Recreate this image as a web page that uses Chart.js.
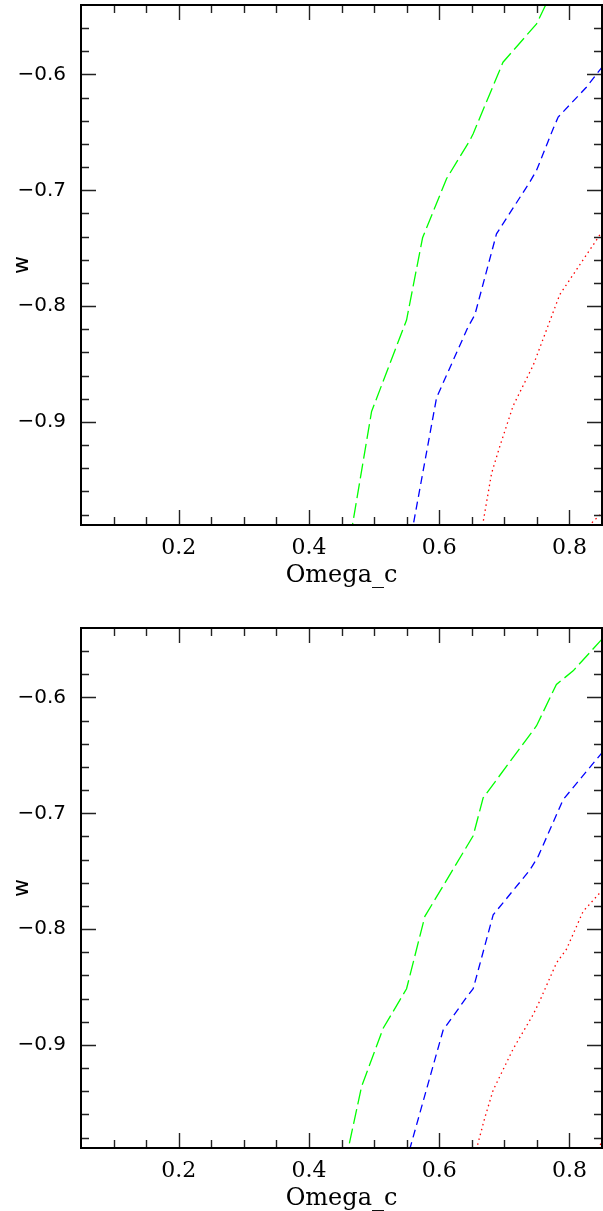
<!DOCTYPE html>
<html>
<head>
<meta charset="utf-8">
<script src="https://cdn.jsdelivr.net/npm/chart.js@4/dist/chart.umd.min.js"></script>
<style>
  html, body { margin: 0; padding: 0; background: #fff; }
  body { width: 603px; height: 1211px; overflow: hidden; position: relative; }
  .panel { position: absolute; left: 0; width: 603px; height: 620px; }
  #panelTop { top: 0; }
  #panelBottom { top: 623px; }
</style>
</head>
<body>
<div class="panel" id="panelTop"><canvas id="chartTop" width="603" height="620"></canvas></div>
<div class="panel" id="panelBottom"><canvas id="chartBottom" width="603" height="620"></canvas></div>
<script>
// Axis ranges and ticks (shared by both panels)
const xMin = 0.05;
const xMax = 0.85;
const yMin = -0.989;
const yMax = -0.54;
const xMajorTicks = [0.2, 0.4, 0.6, 0.8];
const xTickLabels = ["0.2", "0.4", "0.6", "0.8"];
const xMinorTicks = [0.1, 0.15, 0.25, 0.3, 0.35, 0.45, 0.5, 0.55, 0.65, 0.7, 0.75];
const yMajorTicks = [-0.6, -0.7, -0.8, -0.9];
const yTickLabels = ["\u22120.6", "\u22120.7", "\u22120.8", "\u22120.9"];
const yMinorTicks = [-0.56, -0.58, -0.62, -0.64, -0.66, -0.68, -0.72, -0.74, -0.76, -0.78,
  -0.82, -0.84, -0.86, -0.88, -0.92, -0.94, -0.96, -0.98];

// Top panel contours
const topGreenX = [0.7635, 0.7495, 0.698, 0.6522, 0.647, 0.6113, 0.5745, 0.5499, 0.4962, 0.4665];
const topGreenY = [-0.54, -0.5563, -0.5894, -0.6511, -0.657, -0.690, -0.741, -0.812, -0.891, -0.99];
const topBlueX = [0.851, 0.826, 0.7827, 0.775, 0.7495, 0.7392, 0.688, 0.6548, 0.6445, 0.596, 0.5598];
const topBlueY = [-0.593, -0.611, -0.6368, -0.6468, -0.6828, -0.6928, -0.7376, -0.8075, -0.8178, -0.879, -0.99];
const topRedX = [0.851, 0.8287, 0.7852, 0.7443, 0.7136, 0.6931, 0.6804, 0.6664];
const topRedY = [-0.735, -0.7536, -0.790, -0.8512, -0.886, -0.921, -0.9445, -0.99];
const topRed2X = [0.829, 0.851];
const topRed2Y = [-0.99, -0.978];

// Bottom panel contours
const botGreenX = [0.851, 0.8057, 0.780, 0.7495, 0.6675, 0.6522, 0.578, 0.5499, 0.514, 0.4808, 0.4602];
const botGreenY = [-0.549, -0.577, -0.5887, -0.6244, -0.6867, -0.7194, -0.789, -0.8515, -0.8856, -0.936, -0.99];
const botBlueX = [0.851, 0.7903, 0.752, 0.7392, 0.6829, 0.6522, 0.642, 0.6061, 0.5548];
const botBlueY = [-0.647, -0.6882, -0.7372, -0.749, -0.7877, -0.8515, -0.8589, -0.8871, -0.99];
const botRedX = [0.851, 0.821, 0.7955, 0.7801, 0.7545, 0.7443, 0.7136, 0.6829, 0.6701, 0.6572];
const botRedY = [-0.766, -0.7847, -0.8173, -0.8292, -0.8619, -0.8738, -0.9034, -0.939, -0.9628, -0.99];
const botRed2X = [0.843, 0.851];
const botRed2Y = [-0.99, -0.983];

function toPoints(xs, ys) {
  return xs.map((x, i) => ({ x: x, y: ys[i] }));
}

function lineSet(xs, ys, color, dash) {
  return {
    data: toPoints(xs, ys),
    borderColor: color,
    borderWidth: 1.3,
    borderDash: dash,
    pointRadius: 0,
    showLine: true,
    tension: 0,
    fill: false,
  };
}

// Frame plus inward tick marks on all four sides
const frameTicks = {
  id: "frameTicks",
  afterDraw(chart) {
    const { ctx, chartArea: a, scales } = chart;
    const xs = scales.x;
    const ys = scales.y;
    ctx.save();
    ctx.strokeStyle = "#222";
    ctx.lineWidth = 1.4;
    const xTick = (v, len) => {
      const px = Math.round(xs.getPixelForValue(v)) + 0.5;
      ctx.beginPath();
      ctx.moveTo(px, a.bottom); ctx.lineTo(px, a.bottom - len);
      ctx.moveTo(px, a.top); ctx.lineTo(px, a.top + len);
      ctx.stroke();
    };
    const yTick = (v, len) => {
      const py = Math.round(ys.getPixelForValue(v)) + 0.5;
      ctx.beginPath();
      ctx.moveTo(a.left, py); ctx.lineTo(a.left + len, py);
      ctx.moveTo(a.right, py); ctx.lineTo(a.right - len, py);
      ctx.stroke();
    };
    xMajorTicks.forEach((v) => xTick(v, 15));
    xMinorTicks.forEach((v) => xTick(v, 8));
    yMajorTicks.forEach((v) => yTick(v, 15));
    yMinorTicks.forEach((v) => yTick(v, 8));
    ctx.strokeStyle = "#000";
    ctx.lineWidth = 2;
    ctx.strokeRect(a.left, a.top, a.right - a.left, a.bottom - a.top);
    ctx.restore();
  },
};

function makePanel(canvasId, datasets) {
  return new Chart(document.getElementById(canvasId), {
    type: "scatter",
    data: { datasets: datasets },
    options: {
      responsive: false,
      animation: false,
      layout: { padding: { top: 5, right: 1, left: 0, bottom: 0 } },
      plugins: { legend: { display: false }, tooltip: { enabled: false } },
      scales: {
        x: {
          type: "linear",
          min: xMin,
          max: xMax,
          afterBuildTicks: (scale) => {
            scale.ticks = xMajorTicks.map((v) => ({ value: v }));
          },
          afterFit: (scale) => {
            scale.height = 95;
            scale.paddingLeft = 0;
            scale.paddingRight = 0;
          },
          grid: { display: false, drawTicks: false },
          border: { display: false },
          ticks: {
            padding: 10,
            maxRotation: 0,
            color: "#000",
            font: { family: "DejaVu Serif", size: 22 },
            callback: (value, index) => xTickLabels[index],
          },
          title: {
            display: true,
            text: "Omega_c",
            color: "#000",
            font: { family: "DejaVu Serif", size: 24 },
            padding: { top: 0, bottom: 30 },
          },
        },
        y: {
          type: "linear",
          min: yMin,
          max: yMax,
          afterBuildTicks: (scale) => {
            scale.ticks = yMajorTicks.map((v) => ({ value: v }));
          },
          afterFit: (scale) => {
            scale.width = 81;
            scale.paddingTop = 0;
            scale.paddingBottom = 0;
          },
          grid: { display: false, drawTicks: false },
          border: { display: false },
          ticks: {
            padding: 15,
            color: "#000",
            font: { family: "DejaVu Sans", size: 20 },
            callback: (value, index) => yTickLabels[index],
          },
          title: {
            display: true,
            text: "w",
            color: "#000",
            font: { family: "DejaVu Sans", size: 22 },
            padding: { top: 9, bottom: 0 },
          },
        },
      },
    },
    plugins: [frameTicks],
  });
}

const green = "#00ff00";
const blue = "#0000ff";
const red = "#ff0000";
const longDash = [15, 5];
const shortDash = [8, 5];
const dotted = [1.5, 3.5];

makePanel("chartTop", [
  lineSet(topGreenX, topGreenY, green, longDash),
  lineSet(topBlueX, topBlueY, blue, shortDash),
  lineSet(topRedX, topRedY, red, dotted),
  lineSet(topRed2X, topRed2Y, red, dotted),
]);

makePanel("chartBottom", [
  lineSet(botGreenX, botGreenY, green, longDash),
  lineSet(botBlueX, botBlueY, blue, shortDash),
  lineSet(botRedX, botRedY, red, dotted),
  lineSet(botRed2X, botRed2Y, red, dotted),
]);
</script>
</body>
</html>
